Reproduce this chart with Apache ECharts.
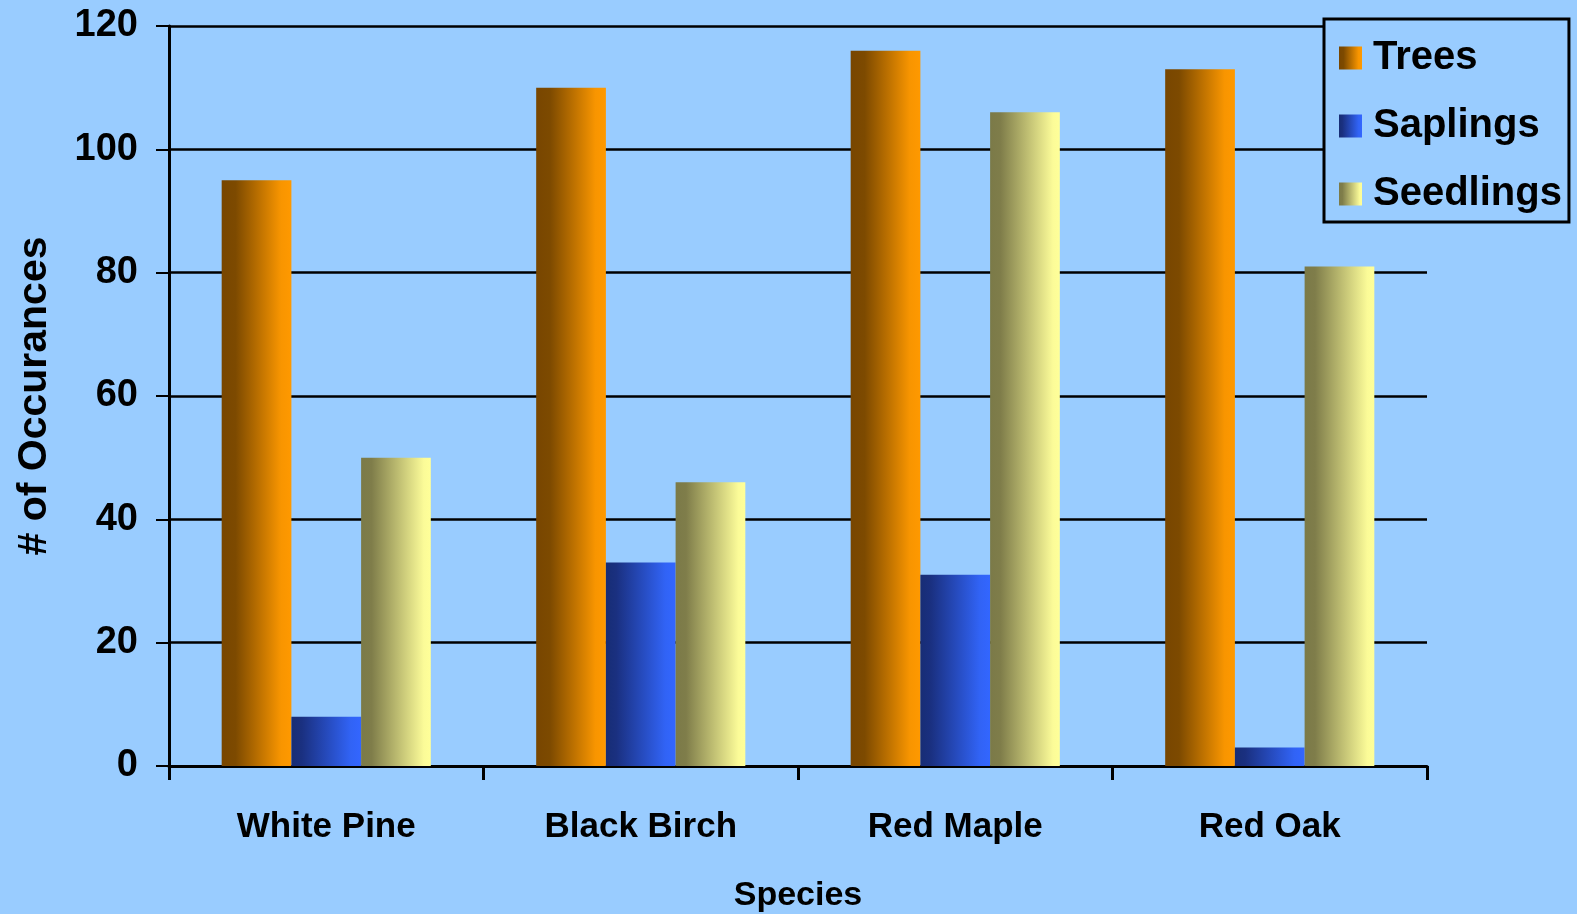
<!DOCTYPE html>
<html>
<head>
<meta charset="utf-8">
<script src="https://cdn.jsdelivr.net/npm/echarts@6/dist/echarts.min.js"></script>
<style>
html,body{margin:0;padding:0;background:#99ccff;}
#chart{width:1577px;height:914px;}
</style>
</head>
<body>
<div id="chart"></div>
<script>
const categories = ['White Pine', 'Black Birch', 'Red Maple', 'Red Oak'];
const trees = [95, 110, 116, 113];
const saplings = [8, 33, 31, 3];
const seedlings = [50, 46, 106, 81];
const seriesNames = ['Trees', 'Saplings', 'Seedlings'];

function grad(stops) {
  return new echarts.graphic.LinearGradient(0, 0, 1, 0,
    stops.map(s => ({offset: s[0], color: s[1]})));
}
const treeColor = grad([[0,'#784600'],[0.2,'#7d4a00'],[0.85,'#f89500'],[1,'#ff9900']]);
const sapColor = grad([[0,'#172d75'],[0.15,'#1a3080'],[0.85,'#3163f5'],[1,'#3366ff']]);
const seedColor = grad([[0,'#7b7a48'],[0.15,'#7f7d4a'],[0.9,'#fbfb98'],[1,'#ffff99']]);

const font = 'Liberation Sans, Arial, sans-serif';
const chart = echarts.init(document.getElementById('chart'));
chart.setOption({
  backgroundColor: '#99ccff',
  animation: false,
  grid: {left: 169, right: 150, top: 26, bottom: 148, containLabel: false, outerBoundsMode: 'none'},
  legend: {
    orient: 'vertical',
    left: 1324, top: 19,
    padding: [19, 7, 8, 15],
    icon: 'rect',
    itemWidth: 23, itemHeight: 23,
    itemGap: 28,
    backgroundColor: '#99ccff',
    borderColor: '#000', borderWidth: 3,
    textStyle: {fontFamily: font, fontWeight: 'bold', fontSize: 40, color: '#000', lineHeight: 40, padding: [0,0,0,6]},
    data: seriesNames
  },
  xAxis: {
    type: 'category',
    data: categories,
    name: 'Species',
    nameLocation: 'middle',
    nameGap: 113,
    nameTextStyle: {fontFamily: font, fontWeight: 'bold', fontSize: 34, color: '#000'},
    axisLine: {lineStyle: {color: '#000', width: 3}},
    axisTick: {show: true, length: 14, lineStyle: {color: '#000', width: 3}},
    axisLabel: {fontFamily: font, fontWeight: 'bold', fontSize: 35, color: '#000', margin: 44}
  },
  yAxis: {
    type: 'value',
    min: 0, max: 120, interval: 20,
    name: '# of Occurances',
    nameLocation: 'middle',
    nameGap: 114,
    nameTextStyle: {fontFamily: font, fontWeight: 'bold', fontSize: 41, color: '#000'},
    axisLine: {show: true, lineStyle: {color: '#000', width: 3}},
    axisTick: {show: true, length: 13, lineStyle: {color: '#000', width: 2}},
    axisLabel: {fontFamily: font, fontWeight: 'bold', fontSize: 38, color: '#000', margin: 31},
    splitLine: {show: true, lineStyle: {color: '#000', width: 2.5}}
  },
  series: [
    {name: 'Trees', type: 'bar', data: trees, barGap: '0%', barCategoryGap: '33.5%', itemStyle: {color: treeColor}},
    {name: 'Saplings', type: 'bar', data: saplings, barGap: '0%', barCategoryGap: '33.5%', itemStyle: {color: sapColor}},
    {name: 'Seedlings', type: 'bar', data: seedlings, barGap: '0%', barCategoryGap: '33.5%', itemStyle: {color: seedColor}}
  ]
});
</script>
</body>
</html>
